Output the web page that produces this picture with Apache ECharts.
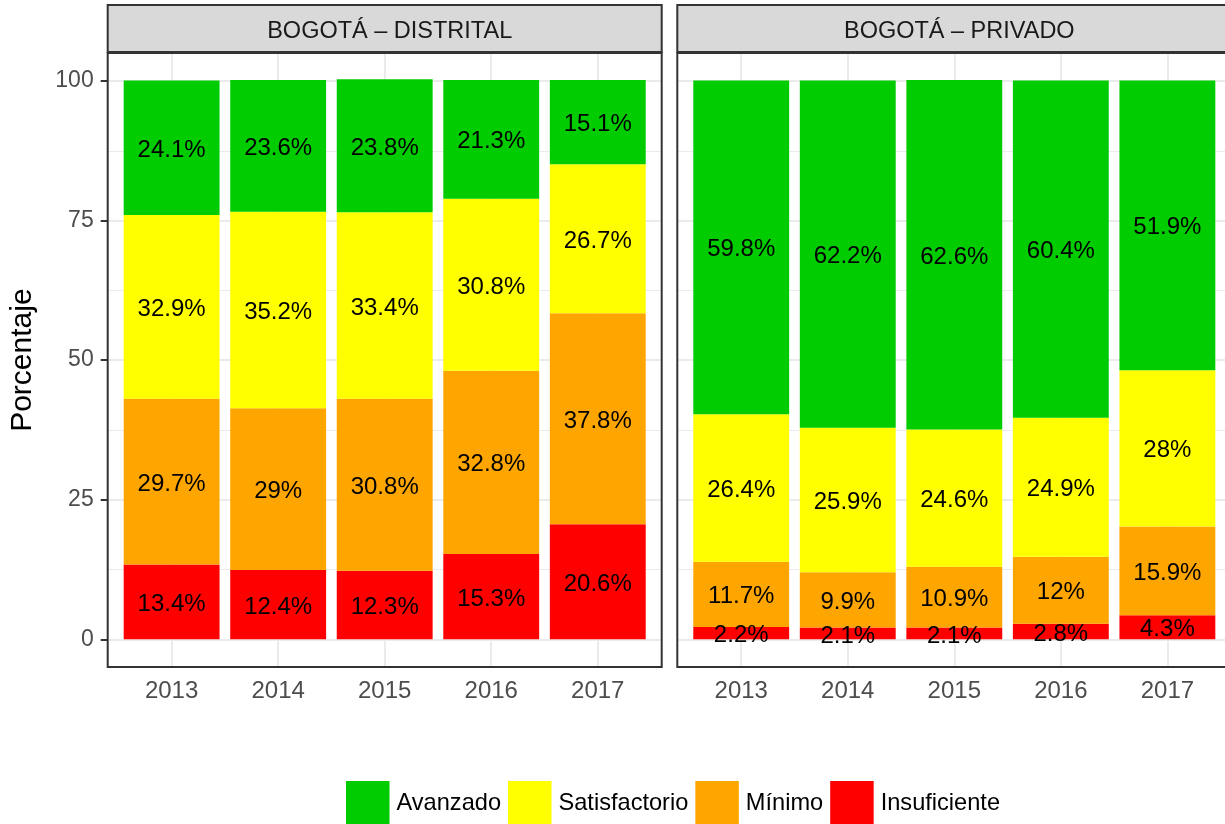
<!DOCTYPE html>
<html>
<head>
<meta charset="utf-8">
<script src="https://cdn.jsdelivr.net/npm/echarts@6/dist/echarts.min.js"></script>
<style>html,body{margin:0;padding:0;background:#fff;overflow:hidden;}#c{width:1240px;height:824px;}</style>
</head>
<body>
<div id="c"></div>
<script>
const years = ['2013', '2014', '2015', '2016', '2017'];
const legendOrder = ['Avanzado', 'Satisfactorio', 'Mínimo', 'Insuficiente'];
const panelTitles = ['BOGOTÁ – DISTRITAL', 'BOGOTÁ – PRIVADO'];
const levelColors = { Avanzado: '#00CC00', Satisfactorio: '#FFFF00', 'Mínimo': '#FFA500', Insuficiente: '#FF0000' };

// BOGOTÁ – DISTRITAL
const distInsuficiente = [13.4, 12.4, 12.3, 15.3, 20.6];
const distMinimo = [29.7, 29, 30.8, 32.8, 37.8];
const distSatisfactorio = [32.9, 35.2, 33.4, 30.8, 26.7];
const distAvanzado = [24.1, 23.6, 23.8, 21.3, 15.1];
// BOGOTÁ – PRIVADO
const privInsuficiente = [2.2, 2.1, 2.1, 2.8, 4.3];
const privMinimo = [11.7, 9.9, 10.9, 12, 15.9];
const privSatisfactorio = [26.4, 25.9, 24.6, 24.9, 28];
const privAvanzado = [59.8, 62.2, 62.6, 60.4, 51.9];

const yMin = 0, yMax = 100, yStep = 25;

const panels = [
  { title: panelTitles[0], stack: 'dist', data: { Insuficiente: distInsuficiente, 'Mínimo': distMinimo, Satisfactorio: distSatisfactorio, Avanzado: distAvanzado } },
  { title: panelTitles[1], stack: 'priv', data: { Insuficiente: privInsuficiente, 'Mínimo': privMinimo, Satisfactorio: privSatisfactorio, Avanzado: privAvanzado } }
];

const FONT = '"Liberation Sans", Arial, Helvetica, sans-serif';
const panelLeft = [107.7, 677.3];
const panelW = 554;
const unit = panelW / 5.2;           // one category unit (ggplot discrete expand 0.6)
const panelTop = 53, panelBottom = 667;
const zeroY = 639.3, hundredY = 81;
const stackOrder = ['Insuficiente', 'Mínimo', 'Satisfactorio', 'Avanzado'];

const grid = [], xAxis = [], yAxis = [], series = [], title = [];

panels.forEach((p, i) => {
  const ox = panelLeft[i];
  const base = grid.length;
  // 0: frame (border on top)
  grid.push({ left: ox, width: panelW, top: panelTop, height: panelBottom - panelTop, show: true,
    backgroundColor: 'transparent', borderColor: '#333333', borderWidth: 2, z: 10 });
  xAxis.push({ gridIndex: base, type: 'value', show: false, min: 0, max: 1 });
  yAxis.push({ gridIndex: base, type: 'value', show: false, min: 0, max: 1 });
  // 1: strip
  grid.push({ left: ox, width: panelW, top: 5, height: 47, show: true,
    backgroundColor: '#D9D9D9', borderColor: '#333333', borderWidth: 2, z: 10 });
  xAxis.push({ gridIndex: base + 1, type: 'value', show: false, min: 0, max: 1 });
  yAxis.push({ gridIndex: base + 1, type: 'value', show: false, min: 0, max: 1 });
  title.push({ text: p.title, left: ox + panelW / 2, textAlign: 'center', top: 15,
    textStyle: { fontFamily: FONT, fontSize: 23.5, fontWeight: 'normal', color: '#1A1A1A' }, z: 12 });
  // 2: horizontal grid lines and y axis
  grid.push({ left: ox, width: panelW, top: hundredY, height: zeroY - hundredY });
  xAxis.push({ gridIndex: base + 2, type: 'value', show: false, min: 0, max: 1 });
  yAxis.push({ gridIndex: base + 2, type: 'value', min: yMin, max: yMax, interval: yStep,
    name: i === 0 ? 'Porcentaje' : '', nameLocation: 'middle', nameGap: 70,
    nameTextStyle: { fontFamily: FONT, fontSize: 30, color: '#000' },
    axisLine: { show: false },
    axisTick: { show: i === 0, length: 7, lineStyle: { color: '#333333', width: 2 } },
    axisLabel: { show: i === 0, fontFamily: FONT, fontSize: 23, color: '#4D4D4D', margin: 14,
      padding: [6, 0, 0, 0] },
    splitLine: { show: true, lineStyle: { color: '#EBEBEB', width: 2 } },
    minorTick: { show: false, splitNumber: 2 },
    minorSplitLine: { show: true, lineStyle: { color: '#EBEBEB', width: 1 } } });
  // 3: bars + category axis
  const bl = ox + 0.1 * unit;
  const extraBottom = (panelBottom - zeroY) / ((zeroY - hundredY) / 100);
  const extraTop = (hundredY - panelTop) / ((zeroY - hundredY) / 100);
  grid.push({ left: bl, top: panelTop, width: 5 * unit, height: panelBottom - panelTop });
  xAxis.push({ gridIndex: base + 3, type: 'category', data: years, boundaryGap: true,
    axisLine: { show: false },
    axisTick: { show: true, alignWithLabel: true, length: 7, lineStyle: { color: '#333333', width: 2 } },
    axisLabel: { fontFamily: FONT, fontSize: 24, color: '#4D4D4D', margin: 12 },
    splitLine: { show: false } });
  yAxis.push({ gridIndex: base + 3, type: 'value', show: false, min: -extraBottom, max: 100 + extraTop,
    splitLine: { show: false } });
  series.push({ type: 'line', name: '_vgrid', xAxisIndex: base + 3, yAxisIndex: base + 3, data: [], z: 1,
    silent: true, symbol: 'none',
    markLine: { silent: true, symbol: 'none', z: 1, label: { show: false },
      lineStyle: { color: '#EBEBEB', width: 2, type: 'solid' },
      data: years.map(y => ({ xAxis: y })) } });
  stackOrder.forEach(name => {
    series.push({ type: 'bar', name: name, stack: p.stack, xAxisIndex: base + 3, yAxisIndex: base + 3,
      data: p.data[name], barWidth: '90%', clip: false, z: 3,
      itemStyle: { color: levelColors[name] },
      label: { show: true, position: 'inside', offset: [0, 2.5], formatter: q => q.value + '%',
        fontFamily: FONT, fontSize: 24, color: '#000' } });
  });
});

const chart = echarts.init(document.getElementById('c'), null, { renderer: 'canvas' });
chart.setOption({
  animation: false,
  backgroundColor: '#fff',
  textStyle: { fontFamily: FONT },
  title: title,
  grid: grid,
  xAxis: xAxis,
  yAxis: yAxis,
  legend: { data: legendOrder, left: 346, top: 781, orient: 'horizontal', icon: 'rect', padding: 0,
    itemWidth: 43.5, itemHeight: 44, itemGap: 7,
    textStyle: { fontFamily: FONT, fontSize: 23.6, color: '#000', padding: [0, 0, 0, 2] } },
  series: series
});
</script>
</body>
</html>
